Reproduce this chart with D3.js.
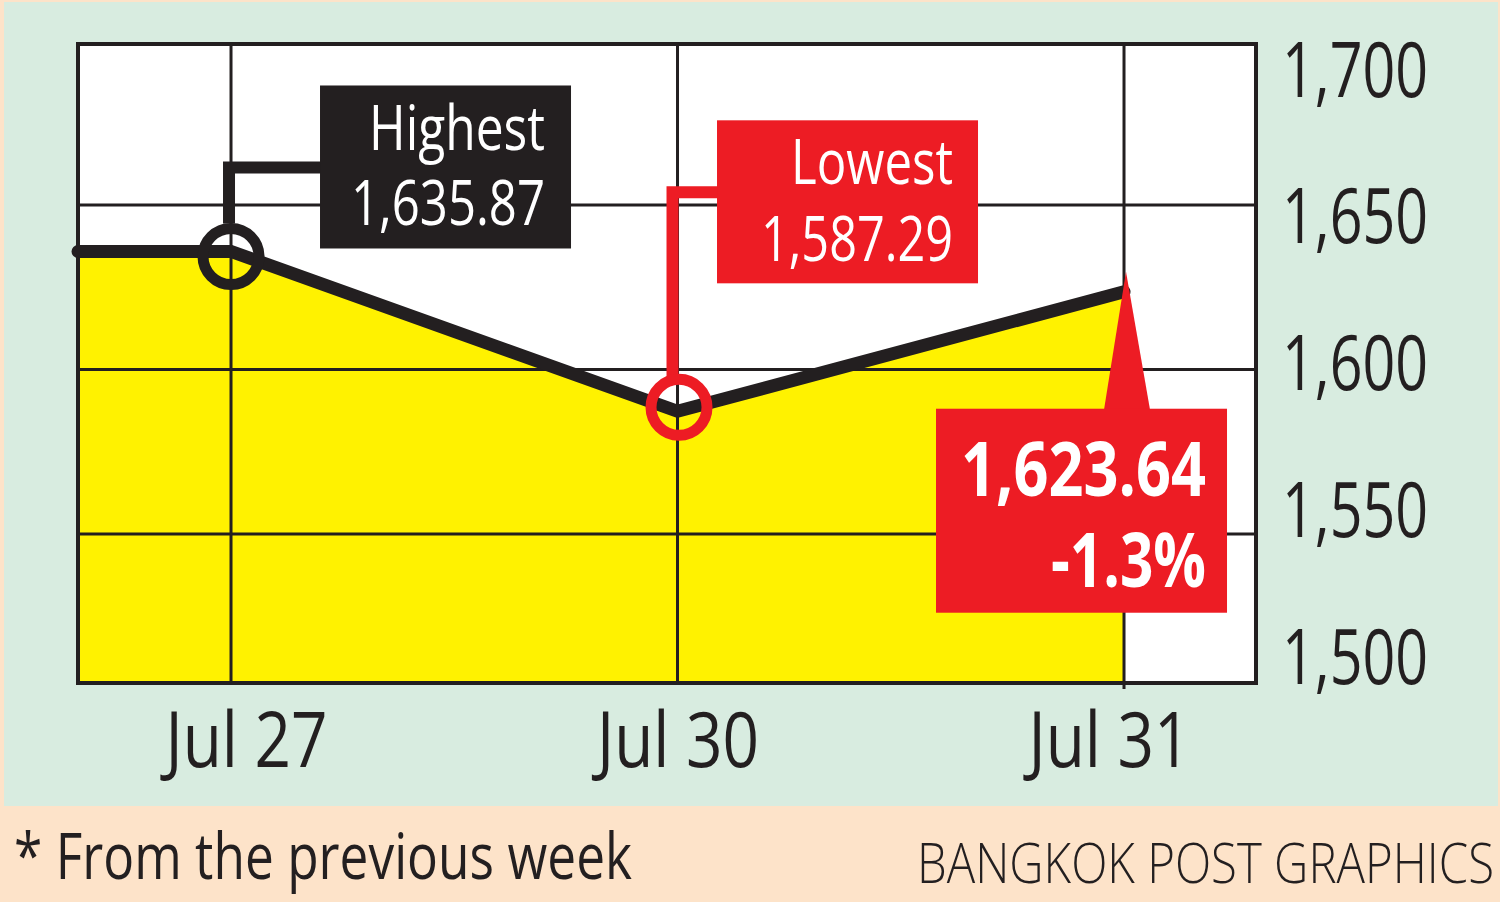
<!DOCTYPE html>
<html><head><meta charset="utf-8">
<script src="https://cdn.jsdelivr.net/npm/d3@7"></script>
<style>
html,body{margin:0;padding:0;background:#fde3c9;}
svg{display:block;}
text{font-family:"Open Sans","Noto Sans",sans-serif;}
</style></head><body>
<svg id="chart" width="1500" height="902"></svg>
<script>
// ---- data ----
const dates = ["Jul 27", "Jul 30", "Jul 31"];
const closes = [1635.87, 1587.29, 1623.64];
const leadIn = 1635.87;            // level carried in at the left edge
const yTicks = [1500, 1550, 1600, 1650, 1700];
const gridValues = [1550, 1600, 1650];
const highLabel = ["Highest", "1,635.87"];
const lowLabel = ["Lowest", "1,587.29"];
const lastLabel = ["1,623.64", "-1.3%"];
const footnote = "* From the previous week";
const credit = "BANGKOK POST GRAPHICS";

// ---- layout ----
const INK = "#231f20", RED = "#ed1c24", YELLOW = "#fff200", GREEN = "#d8ece0";
const plot = {left: 78, top: 44, right: 1256, bottom: 683};
const svg = d3.select("#chart");

const x = d3.scaleLinear().domain([-0.3427, 2.2956]).range([plot.left, plot.right]);
const y = d3.scaleLinear().domain([1550, 1650]).range([534, 205]);
const labelY = d3.scaleLinear().domain([1500, 1700]).range([683, 96]);
const labelX = d3.scaleLinear().domain([0, 2]).range([246, 1109]);

const pts = [{i: x.domain()[0], v: leadIn}].concat(closes.map((v, i) => ({i, v})));

function fitText(g, str, xLeft, baseline, width, size, weight, color) {
  return g.append("text").text(str)
    .attr("x", xLeft).attr("y", baseline)
    .attr("textLength", width).attr("lengthAdjust", "spacingAndGlyphs")
    .attr("font-size", size).attr("font-weight", weight).attr("fill", color);
}

// background panel
svg.append("rect").attr("x", 4).attr("y", 2).attr("width", 1494).attr("height", 804).attr("fill", GREEN);
// plot area
svg.append("rect").attr("x", plot.left).attr("y", plot.top)
  .attr("width", plot.right - plot.left).attr("height", plot.bottom - plot.top).attr("fill", "#fff");

svg.append("clipPath").attr("id", "clip").append("rect")
  .attr("x", plot.left).attr("y", plot.top)
  .attr("width", plot.right - plot.left).attr("height", plot.bottom - plot.top);

// area
const area = d3.area().x(d => x(d.i)).y0(plot.bottom).y1(d => y(d.v));
svg.append("path").datum(pts).attr("d", area).attr("fill", YELLOW).attr("clip-path", "url(#clip)");

// grid
svg.append("g").selectAll("line").data(gridValues).join("line")
  .attr("x1", plot.left).attr("x2", plot.right)
  .attr("y1", d => y(d)).attr("y2", d => y(d))
  .attr("stroke", INK).attr("stroke-width", 3);
svg.append("g").selectAll("line").data(closes).join("line")
  .attr("x1", (d, i) => x(i)).attr("x2", (d, i) => x(i))
  .attr("y1", plot.top).attr("y2", (d, i) => i === closes.length - 1 ? plot.bottom + 6 : plot.bottom)
  .attr("stroke", INK).attr("stroke-width", 3);

// frame
svg.append("rect").attr("x", plot.left).attr("y", plot.top)
  .attr("width", plot.right - plot.left).attr("height", plot.bottom - plot.top)
  .attr("fill", "none").attr("stroke", INK).attr("stroke-width", 4);

// line
const line = d3.line().x(d => x(d.i)).y(d => y(d.v));
svg.append("path").datum(pts).attr("d", line).attr("fill", "none")
  .attr("stroke", INK).attr("stroke-width", 13)
  .attr("stroke-linecap", "round").attr("stroke-linejoin", "miter");

// ---- annotations ----
const hiI = closes.indexOf(d3.max(closes));
const loI = closes.indexOf(d3.min(closes));
const laI = closes.length - 1;
const ringR = 28;

// Highest
{
  const px = x(hiI), py = y(closes[hiI]);
  const box = {left: px + 89, top: py - 166, w: 251, h: 163};
  const cy = box.top + 82;
  svg.append("path").attr("d", `M${px - 2},${py - ringR} L${px - 2},${cy} L${box.left + 2},${cy}`)
    .attr("fill", "none").attr("stroke", INK).attr("stroke-width", 12).attr("stroke-linejoin", "miter");
  svg.append("circle").attr("cx", px).attr("cy", py + 5).attr("r", ringR)
    .attr("fill", "none").attr("stroke", INK).attr("stroke-width", 11);
  svg.append("rect").attr("x", box.left).attr("y", box.top).attr("width", box.w).attr("height", box.h).attr("fill", INK);
  const r = box.left + box.w - 26;
  fitText(svg, highLabel[0], r - 176, box.top + 65, 176, 63, 400, "#fff");
  fitText(svg, highLabel[1], r - 194, box.top + 140, 194, 63, 400, "#fff");
}
// Lowest
{
  const px = x(loI), py = y(closes[loI]);
  const box = {left: px + 39.5, top: py - 291, w: 261, h: 163};
  const cy = box.top + 72, vx = px - 5;
  svg.append("path").attr("d", `M${vx},${py - ringR} L${vx},${cy} L${box.left + 2},${cy}`)
    .attr("fill", "none").attr("stroke", RED).attr("stroke-width", 12).attr("stroke-linejoin", "miter");
  svg.append("circle").attr("cx", px + 1.5).attr("cy", py - 4).attr("r", ringR)
    .attr("fill", "none").attr("stroke", RED).attr("stroke-width", 11);
  svg.append("rect").attr("x", box.left).attr("y", box.top).attr("width", box.w).attr("height", box.h).attr("fill", RED);
  const r = box.left + box.w - 25;
  fitText(svg, lowLabel[0], r - 162, box.top + 64, 162, 63, 400, "#fff");
  fitText(svg, lowLabel[1], r - 192, box.top + 141, 192, 63, 400, "#fff");
}
// Last
{
  const px = x(laI), py = y(closes[laI]);
  const box = {left: px - 188, top: py + 117, w: 291, h: 204};
  svg.append("path").attr("d", `M${px + 2},${py - 20} L${px + 26},${box.top + 1} L${px - 20},${box.top + 1} Z`).attr("fill", RED);
  svg.append("rect").attr("x", box.left).attr("y", box.top).attr("width", box.w).attr("height", box.h).attr("fill", RED);
  const r = box.left + box.w - 21;
  fitText(svg, lastLabel[0], r - 245, box.top + 87, 245, 76, 700, "#fff");
  fitText(svg, lastLabel[1], r - 155, box.top + 178, 155, 76, 700, "#fff");
}

// ---- axes ----
const yAxis = d3.axisRight(labelY).tickValues(yTicks).tickFormat(d3.format(",")).tickSize(0).tickPadding(0);
const gy = svg.append("g").attr("transform", "translate(1282,0)").call(yAxis);
gy.select(".domain").remove();
gy.selectAll("text").attr("x", 0).attr("dy", 0).attr("text-anchor", "start")
  .attr("font-size", 76).attr("font-family", null).attr("fill", INK)
  .attr("textLength", 146).attr("lengthAdjust", "spacingAndGlyphs");

const xAxis = d3.axisBottom(labelX).tickValues(closes.map((d, i) => i)).tickFormat(i => dates[i]).tickSize(0).tickPadding(0);
const gx = svg.append("g").attr("transform", "translate(0,767)").call(xAxis);
gx.select(".domain").remove();
gx.selectAll("text").attr("y", 0).attr("dy", 0).attr("x", -81).attr("text-anchor", "start")
  .attr("font-size", 76).attr("font-family", null).attr("fill", INK)
  .attr("textLength", 162).attr("lengthAdjust", "spacingAndGlyphs");

// ---- footer ----
fitText(svg, footnote, 14, 879, 618, 64, 400, INK);
fitText(svg, credit, 917, 883, 577, 56, 300, INK);
</script>
</body></html>
